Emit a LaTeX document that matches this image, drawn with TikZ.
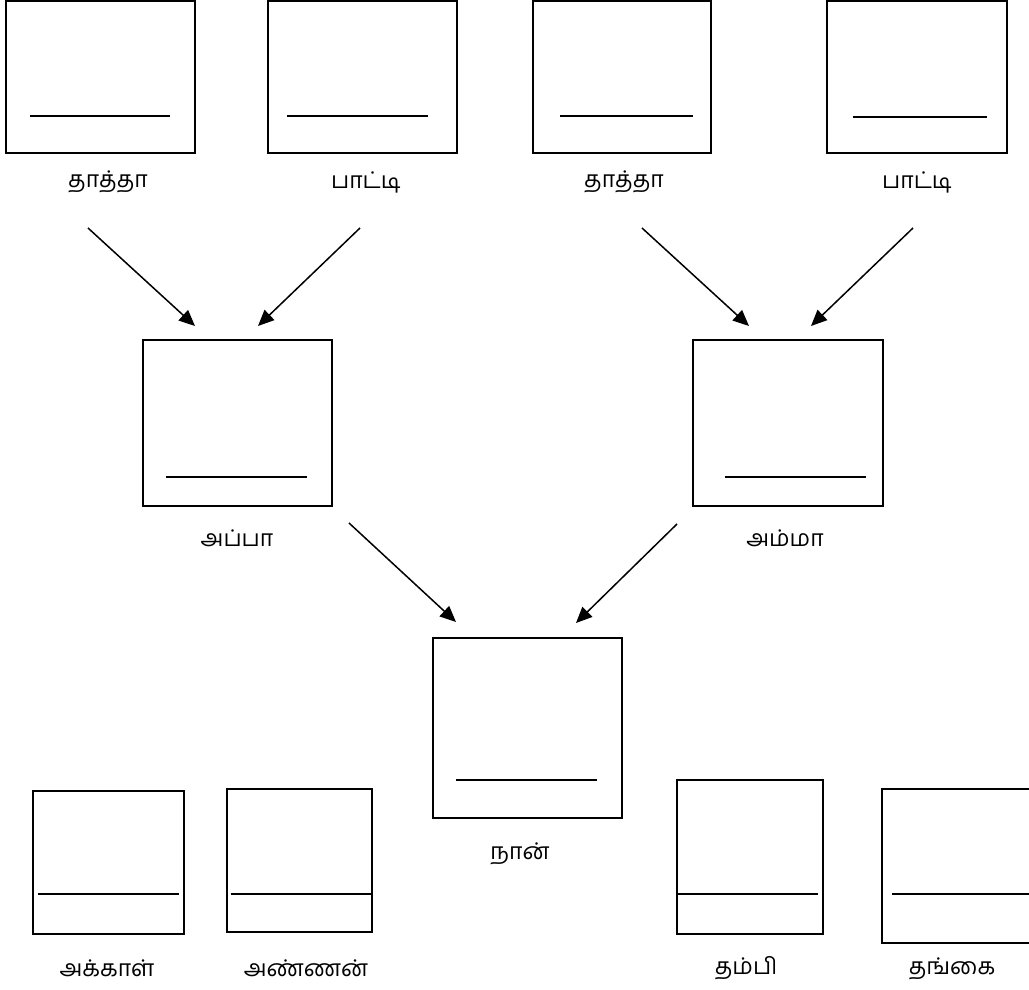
\documentclass[tikz,border=0pt]{standalone}
\usepackage{fontspec}
\newfontfamily\tamilfont[Script=Tamil]{Hind Madurai}
\usetikzlibrary{arrows.meta,fit}
\begin{document}
\begin{tikzpicture}[x=1pt,y=-1pt,
  kbox/.style={draw, line width=2pt, inner sep=0pt, fit=#1},
  kline/.style={line width=1.6pt},
  klabel/.style={font=\tamilfont\fontsize{23}{27}\selectfont, inner sep=0pt},
  karrow/.style={line width=1.5pt, -{Triangle[length=16pt,width=14pt]}}]
\path[use as bounding box] (0,0) rectangle (1029,990);
\clip (0,0) rectangle (1029,990);
% corner coordinates
\coordinate (b1a) at (6,1);    \coordinate (b1b) at (195,153);
\coordinate (b2a) at (268,1);  \coordinate (b2b) at (457,153);
\coordinate (b3a) at (533,1);  \coordinate (b3b) at (711,153);
\coordinate (b4a) at (827,1);  \coordinate (b4b) at (1007,153);
\coordinate (apa) at (143,340); \coordinate (apb) at (332,506);
\coordinate (ama) at (693,340); \coordinate (amb) at (883,506);
\coordinate (naa) at (433,638); \coordinate (nab) at (622,818);
\coordinate (aka) at (33,791);  \coordinate (akb) at (184,934);
\coordinate (ana) at (227,789); \coordinate (anb) at (372,932);
\coordinate (tba) at (677,780); \coordinate (tbb) at (823,934);
\coordinate (tga) at (882,789); \coordinate (tgb) at (1045,943);
% boxes
\node[kbox=(b1a)(b1b)] (b1) {};
\node[kbox=(b2a)(b2b)] (b2) {};
\node[kbox=(b3a)(b3b)] (b3) {};
\node[kbox=(b4a)(b4b)] (b4) {};
\node[kbox=(apa)(apb)] (appa) {};
\node[kbox=(ama)(amb)] (amma) {};
\node[kbox=(naa)(nab)] (naan) {};
\node[kbox=(aka)(akb)] (akka) {};
\node[kbox=(ana)(anb)] (annan) {};
\node[kbox=(tba)(tbb)] (thambi) {};
\node[kbox=(tga)(tgb)] (thangai) {};
% name lines
\coordinate (l1a) at (30,116);  \coordinate (l1b) at (170,116);
\coordinate (l2a) at (287,116); \coordinate (l2b) at (428,116);
\coordinate (l3a) at (560,116); \coordinate (l3b) at (693,116);
\coordinate (l4a) at (853,117); \coordinate (l4b) at (987,117);
\coordinate (l5a) at (166,477); \coordinate (l5b) at (307,477);
\coordinate (l6a) at (725,477); \coordinate (l6b) at (866,477);
\coordinate (l7a) at (456,780); \coordinate (l7b) at (597,780);
\coordinate (l8a) at (38,894);  \coordinate (l8b) at (179,894);
\coordinate (l9a) at (231,894); \coordinate (l9b) at (372,894);
\coordinate (l10a) at (677,894); \coordinate (l10b) at (818,894);
\coordinate (l11a) at (892,894); \coordinate (l11b) at (1045,894);
\foreach \i in {1,...,11} {\draw[kline] (l\i a) -- (l\i b);}
% labels
\node[klabel] (t1) at (108,182) {தாத்தா};
\node[klabel] (t2) at (366,182) {பாட்டி};
\node[klabel] (t3) at (624,182) {தாத்தா};
\node[klabel] (t4) at (917,182) {பாட்டி};
\node[klabel] (t5) at (237,538) {அப்பா};
\node[klabel] (t6) at (785,538) {அம்மா};
\node[klabel] (t7) at (520,854) {நான்};
\node[klabel] (t8) at (107,968) {அக்காள்};
\node[klabel] (t9) at (306,968) {அண்ணன்};
\node[klabel] (t10) at (746,968) {தம்பி};
\node[klabel] (t11) at (952,969) {தங்கை};
% arrows
\coordinate (a1s) at (88,228);  \coordinate (a1e) at (195,326);
\coordinate (a2s) at (360,228); \coordinate (a2e) at (258,326);
\coordinate (a3s) at (642,228); \coordinate (a3e) at (749,326);
\coordinate (a4s) at (913,228); \coordinate (a4e) at (811,326);
\coordinate (a5s) at (349,523); \coordinate (a5e) at (456,622);
\coordinate (a6s) at (677,524); \coordinate (a6e) at (576,623);
\foreach \i in {1,...,6} {\draw[karrow] (a\i s) -- (a\i e);}
\end{tikzpicture}
\end{document}
